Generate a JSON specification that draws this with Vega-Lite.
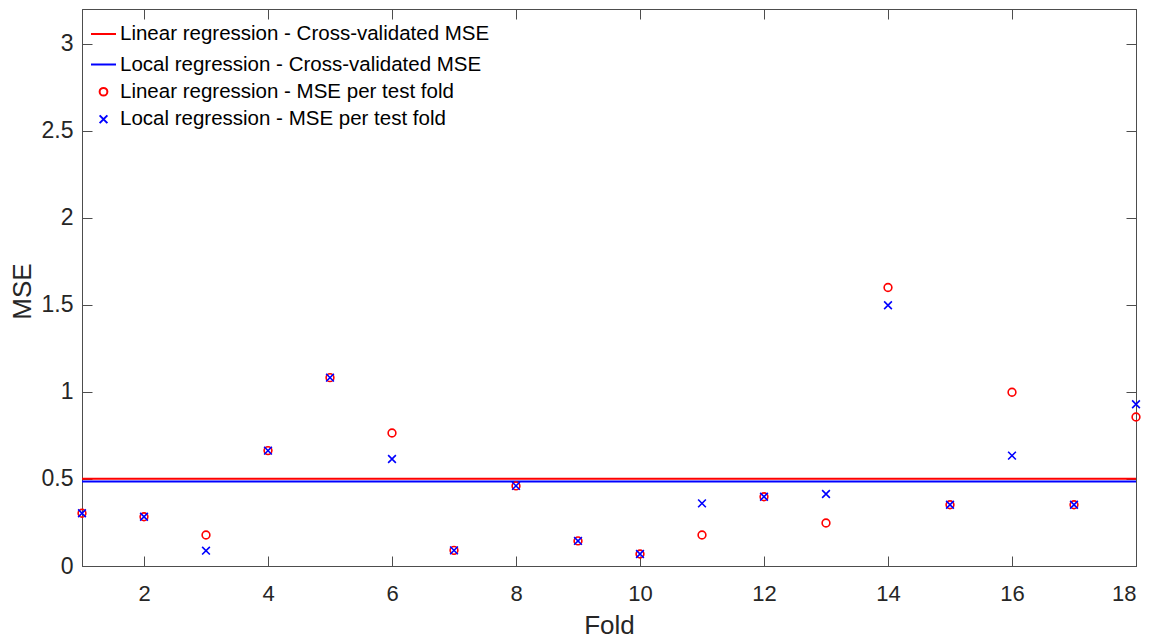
{
  "$schema": "https://vega.github.io/schema/vega-lite/v6.json",
  "width": 1054,
  "height": 557,
  "autosize": "none",
  "padding": {"left": 82, "top": 9, "right": 23, "bottom": 73},
  "background": "white",
  "config": {
    "view": {"stroke": "#4d4d4d", "strokeWidth": 1},
    "font": "Liberation Sans",
    "axis": {"grid": false, "domainColor": "#4d4d4d", "tickColor": "#4d4d4d", "labelColor": "#262626", "titleColor": "#262626", "titleFontWeight": "normal", "labelFont": "Liberation Sans", "titleFont": "Liberation Sans"}
  },
  "datasets": {
    "cv": [
      {"series": "Linear regression - Cross-validated MSE", "mse": 0.501},
      {"series": "Local regression - Cross-validated MSE", "mse": 0.485}
    ],
    "folds": [
      {"fold": 1, "series": "Linear regression - MSE per test fold", "mse": 0.303},
      {"fold": 2, "series": "Linear regression - MSE per test fold", "mse": 0.283},
      {"fold": 3, "series": "Linear regression - MSE per test fold", "mse": 0.178},
      {"fold": 4, "series": "Linear regression - MSE per test fold", "mse": 0.663},
      {"fold": 5, "series": "Linear regression - MSE per test fold", "mse": 1.082},
      {"fold": 6, "series": "Linear regression - MSE per test fold", "mse": 0.764},
      {"fold": 7, "series": "Linear regression - MSE per test fold", "mse": 0.09},
      {"fold": 8, "series": "Linear regression - MSE per test fold", "mse": 0.46},
      {"fold": 9, "series": "Linear regression - MSE per test fold", "mse": 0.144},
      {"fold": 10, "series": "Linear regression - MSE per test fold", "mse": 0.069},
      {"fold": 11, "series": "Linear regression - MSE per test fold", "mse": 0.178},
      {"fold": 12, "series": "Linear regression - MSE per test fold", "mse": 0.398},
      {"fold": 13, "series": "Linear regression - MSE per test fold", "mse": 0.247},
      {"fold": 14, "series": "Linear regression - MSE per test fold", "mse": 1.6},
      {"fold": 15, "series": "Linear regression - MSE per test fold", "mse": 0.352},
      {"fold": 16, "series": "Linear regression - MSE per test fold", "mse": 0.998},
      {"fold": 17, "series": "Linear regression - MSE per test fold", "mse": 0.352},
      {"fold": 18, "series": "Linear regression - MSE per test fold", "mse": 0.856},
      {"fold": 1, "series": "Local regression - MSE per test fold", "mse": 0.303},
      {"fold": 2, "series": "Local regression - MSE per test fold", "mse": 0.283},
      {"fold": 3, "series": "Local regression - MSE per test fold", "mse": 0.088},
      {"fold": 4, "series": "Local regression - MSE per test fold", "mse": 0.663},
      {"fold": 5, "series": "Local regression - MSE per test fold", "mse": 1.082},
      {"fold": 6, "series": "Local regression - MSE per test fold", "mse": 0.615},
      {"fold": 7, "series": "Local regression - MSE per test fold", "mse": 0.09},
      {"fold": 8, "series": "Local regression - MSE per test fold", "mse": 0.46},
      {"fold": 9, "series": "Local regression - MSE per test fold", "mse": 0.144},
      {"fold": 10, "series": "Local regression - MSE per test fold", "mse": 0.069},
      {"fold": 11, "series": "Local regression - MSE per test fold", "mse": 0.36},
      {"fold": 12, "series": "Local regression - MSE per test fold", "mse": 0.398},
      {"fold": 13, "series": "Local regression - MSE per test fold", "mse": 0.414},
      {"fold": 14, "series": "Local regression - MSE per test fold", "mse": 1.498},
      {"fold": 15, "series": "Local regression - MSE per test fold", "mse": 0.352},
      {"fold": 16, "series": "Local regression - MSE per test fold", "mse": 0.634},
      {"fold": 17, "series": "Local regression - MSE per test fold", "mse": 0.352},
      {"fold": 18, "series": "Local regression - MSE per test fold", "mse": 0.929}
    ]
  },
  "layer": [
    {
      "data": {"name": "cv"},
      "transform": [{"filter": {"field": "series", "equal": "Linear regression - Cross-validated MSE"}}],
      "mark": {"type": "rule", "strokeWidth": 2, "color": "#ff0000"},
      "encoding": {
        "y": {"field": "mse", "type": "quantitative", "scale": {"domain": [0, 3.2], "nice": false, "zero": false}, "axis": null}
      }
    },
    {
      "data": {"name": "cv"},
      "transform": [{"filter": {"field": "series", "equal": "Local regression - Cross-validated MSE"}}],
      "mark": {"type": "rule", "strokeWidth": 2, "color": "#0000ff"},
      "encoding": {
        "y": {"field": "mse", "type": "quantitative", "scale": {"domain": [0, 3.2], "nice": false, "zero": false}, "axis": null}
      }
    },
    {
      "data": {"name": "folds"},
      "mark": {"type": "point", "filled": false, "strokeWidth": 1.6, "opacity": 1},
      "encoding": {
        "x": {
          "field": "fold", "type": "quantitative",
          "scale": {"domain": [1, 18], "nice": false, "zero": false},
          "axis": {"orient": "bottom", "values": [2, 4, 6, 8, 10, 12, 14, 16, 18], "format": "d", "tickSize": -10, "labelPadding": 27, "labelFontSize": 22, "title": "Fold", "titleFontSize": 26, "titleBaseline": "alphabetic", "titleY": 67}
        },
        "y": {
          "field": "mse", "type": "quantitative",
          "scale": {"domain": [0, 3.2], "nice": false, "zero": false},
          "axis": {"orient": "left", "values": [0, 0.5, 1, 1.5, 2, 2.5, 3], "format": "~g", "tickSize": -10, "labelPadding": 19, "labelFontSize": 23, "title": "MSE", "titleFontSize": 26, "titleBaseline": "alphabetic", "titleX": -52, "titleY": 282, "titleAngle": -90}
        },
        "color": {
          "field": "series", "type": "nominal",
          "scale": {
            "domain": ["Linear regression - Cross-validated MSE", "Local regression - Cross-validated MSE", "Linear regression - MSE per test fold", "Local regression - MSE per test fold"],
            "range": ["#ff0000", "#0000ff", "#ff0000", "#0000ff"]
          },
          "legend": {
            "orient": "none", "legendX": 8, "legendY": 11.5, "title": null,
            "symbolStrokeWidth": 2,
            "labelFontSize": 20.5, "labelFont": "Liberation Sans", "labelColor": "#000000",
            "labelLimit": 1000, "labelOffset": 3, "rowPadding": 6.5, "padding": 0
          }
        },
        "shape": {
          "field": "series", "type": "nominal",
          "scale": {
            "domain": ["Linear regression - Cross-validated MSE", "Local regression - Cross-validated MSE", "Linear regression - MSE per test fold", "Local regression - MSE per test fold"],
            "range": ["stroke", "stroke", "circle", "M-1,-1L1,1M-1,1L1,-1"]
          },
          "legend": {
            "orient": "none", "legendX": 8, "legendY": 11.5, "title": null,
            "symbolStrokeWidth": 2,
            "labelFontSize": 20.5, "labelFont": "Liberation Sans", "labelColor": "#000000",
            "labelLimit": 1000, "labelOffset": 3, "rowPadding": 6.5, "padding": 0
          }
        },
        "size": {
          "field": "series", "type": "nominal",
          "scale": {
            "type": "ordinal",
            "domain": ["Linear regression - Cross-validated MSE", "Local regression - Cross-validated MSE", "Linear regression - MSE per test fold", "Local regression - MSE per test fold"],
            "range": [625, 625, 60, 60]
          },
          "legend": {
            "orient": "none", "legendX": 8, "legendY": 11.5, "title": null,
            "symbolStrokeWidth": 2,
            "labelFontSize": 20.5, "labelFont": "Liberation Sans", "labelColor": "#000000",
            "labelLimit": 1000, "labelOffset": 3, "rowPadding": 6.5, "padding": 0
          }
        }
      }
    },
    {
      "data": {"name": "folds"},
      "mark": {"type": "point", "opacity": 0},
      "encoding": {
        "x": {
          "field": "fold", "type": "quantitative",
          "scale": {"domain": [1, 18], "nice": false, "zero": false},
          "axis": {"orient": "top", "values": [2, 4, 6, 8, 10, 12, 14, 16, 18], "labels": false, "tickSize": -10, "title": null}
        },
        "y": {
          "field": "mse", "type": "quantitative",
          "scale": {"domain": [0, 3.2], "nice": false, "zero": false},
          "axis": {"orient": "right", "values": [0, 0.5, 1, 1.5, 2, 2.5, 3], "labels": false, "tickSize": -10, "title": null}
        }
      }
    }
  ],
  "resolve": {"axis": {"x": "independent", "y": "independent"}}
}
